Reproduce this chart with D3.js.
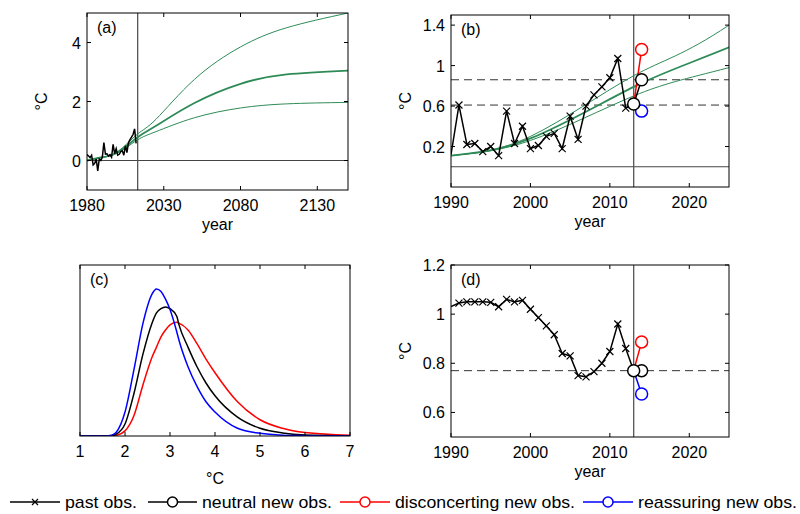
<!DOCTYPE html>
<html>
<head>
<meta charset="utf-8">
<script src="https://cdn.jsdelivr.net/npm/d3@7"></script>
<style>
  body { margin: 0; background: #fff; }
  text { font-family: "Liberation Sans", Arial, sans-serif; fill: #000; }
</style>
</head>
<body>
<svg id="chart" width="800" height="514"></svg>
<script>
// observed anomalies (panels a, b)
const pastYearsA = d3.range(1980, 2013)
const pastTempA = [0.2, 0.15, 0.1, 0.18, -0.15, -0.1, 0.05, -0.35, 0.05, 0.0,
  0.12, 0.61, 0.22, 0.23, 0.15, 0.2, 0.11, 0.55, 0.23, 0.4, 0.18, 0.21, 0.3,
  0.33, 0.18, 0.5, 0.27, 0.6, 0.71, 0.79, 0.88, 1.07, 0.58]
const pastYearsB = d3.range(1990, 2013)
const pastTempB = pastTempA.slice(10)

// projections (green)
const projYears = [1980, 1990, 2000, 2013, 2025, 2050, 2080, 2110, 2150]
const projHigh = [0.0, 0.11, 0.3, 0.9, 1.40, 2.75, 3.85, 4.5, 5.0]
const projMid = [0.0, 0.11, 0.28, 0.79, 1.18, 1.95, 2.6, 2.92, 3.05]
const projLow = [0.0, 0.11, 0.26, 0.70, 0.98, 1.45, 1.78, 1.92, 1.97]

// new observations (panel b)
const newYear = 2014
const lastObsB = 0.62
const newObsB = { neutral: 0.86, disconcerting: 1.16, reassuring: 0.55 }
const dashedB = [0.61, 0.86]

// panel d series
const pastYearsD = d3.range(1990, 2013)
const pastValD = [1.031, 1.045, 1.05, 1.05, 1.05, 1.048, 1.03, 1.06, 1.05, 1.056,
  1.02, 0.986, 0.952, 0.916, 0.84, 0.83, 0.75, 0.745, 0.766, 0.8, 0.848, 0.96, 0.86]
const lastObsD = 0.77
const newObsD = { neutral: 0.77, disconcerting: 0.887, reassuring: 0.675 }
const dashedD = [0.77]

// panel c densities
const sensX = [1, 1.5, 1.7, 1.8, 2, 2.2, 2.4, 2.6, 2.7, 2.8, 2.9, 3, 3.15, 3.2, 3.4, 3.6, 3.8, 4, 4.5, 5, 5.5, 6, 7]
const densBlue = [0, 0, .005, .02, .14, .39, .66, .83, .86, .845, .80, .74, .61, .56, .405, .29, .2, .14, .045, .016, .005, .002, 0]
const densBlack = [0, 0, .002, .01, .07, .25, .48, .66, .72, .745, .755, .745, .70, .65, .52, .405, .31, .235, .11, .045, .018, .006, 0]
const densRed = [0, 0, 0, .003, .03, .12, .30, .46, .52, .58, .62, .65, .665, .66, .62, .54, .45, .37, .2, .095, .045, .02, .004]

const cutYear = 2013
const green = "#2e8b57"
const obsColor = { neutral: "#000", disconcerting: "#ff0000", reassuring: "#0000ff" }
const fs = 16

const svg = d3.select("#chart")

function panel(box, xd, yd, xticks, yticks, label, xlabel, ylabel) {
  const x = d3.scaleLinear().domain(xd).range([box.l, box.r])
  const y = d3.scaleLinear().domain(yd).range([box.b, box.t])
  const g = svg.append("g")
  const clip = "clip" + label
  g.append("clipPath").attr("id", clip).append("rect")
    .attr("x", box.l).attr("y", box.t).attr("width", box.r - box.l).attr("height", box.b - box.t)
  const plot = g.append("g").attr("clip-path", `url(#${clip})`)

  const tl = 4
  xticks.forEach(v => {
    g.append("line").attr("x1", x(v)).attr("x2", x(v)).attr("y1", box.b).attr("y2", box.b - tl).attr("stroke", "#000")
    g.append("line").attr("x1", x(v)).attr("x2", x(v)).attr("y1", box.t).attr("y2", box.t + tl).attr("stroke", "#000")
    g.append("text").attr("x", x(v)).attr("y", box.b + 21).attr("text-anchor", "middle")
      .attr("font-size", fs).text(v)
  })
  yticks.forEach(v => {
    g.append("line").attr("y1", y(v)).attr("y2", y(v)).attr("x1", box.l).attr("x2", box.l + tl).attr("stroke", "#000")
    g.append("line").attr("y1", y(v)).attr("y2", y(v)).attr("x1", box.r).attr("x2", box.r - tl).attr("stroke", "#000")
    g.append("text").attr("x", box.l - 6).attr("y", y(v) + 6).attr("text-anchor", "end")
      .attr("font-size", fs).text(v)
  })
  g.append("text").attr("x", box.l + 10).attr("y", box.t + 20).attr("font-size", fs).text(`(${label})`)
  if (xlabel) g.append("text").attr("x", (box.l + box.r) / 2).attr("y", box.b + 40)
    .attr("text-anchor", "middle").attr("font-size", fs).text(xlabel)
  if (ylabel) g.append("text")
    .attr("transform", `translate(${box.l - 40},${(box.t + box.b) / 2}) rotate(-90)`)
    .attr("text-anchor", "middle").attr("font-size", fs).text(ylabel)
  const frame = () => g.append("rect").attr("x", box.l).attr("y", box.t)
    .attr("width", box.r - box.l).attr("height", box.b - box.t)
    .attr("fill", "none").attr("stroke", "#000")
  return { x, y, g, plot, frame }
}

function curve(p, xs, ys, color, width, c) {
  p.plot.append("path").datum(xs.map((v, i) => [v, ys[i]]))
    .attr("fill", "none").attr("stroke", color).attr("stroke-width", width)
    .attr("d", d3.line().x(d => p.x(d[0])).y(d => p.y(d[1])).curve(c || d3.curveLinear))
}

function crosses(p, xs, ys) {
  xs.forEach((v, i) => {
    const cx = p.x(v), cy = p.y(ys[i]), s = 3.5
    p.plot.append("path").attr("d", `M${cx - s},${cy - s}L${cx + s},${cy + s}M${cx - s},${cy + s}L${cx + s},${cy - s}`)
      .attr("stroke", "#000").attr("stroke-width", 1.2)
  })
}

function hline(p, v, dash, color) {
  const [a, b] = p.x.domain()
  p.plot.append("line").attr("x1", p.x(a)).attr("x2", p.x(b)).attr("y1", p.y(v)).attr("y2", p.y(v))
    .attr("stroke", color || "#000").attr("stroke-width", 1).attr("stroke-dasharray", dash || null)
}
function vline(p, v) {
  const [a, b] = p.y.domain()
  p.plot.append("line").attr("x1", p.x(v)).attr("x2", p.x(v)).attr("y1", p.y(a)).attr("y2", p.y(b))
    .attr("stroke", "#555").attr("stroke-width", 1.3)
}

function newObs(p, last, obs, lines) {
  lines.forEach(k => curve(p, [cutYear, newYear], [last, obs[k]], obsColor[k], 1.5))
  ;["reassuring", "disconcerting", "neutral"].forEach(k => {
    p.plot.append("circle").attr("cx", p.x(newYear)).attr("cy", p.y(obs[k])).attr("r", 6)
      .attr("fill", "#fff").attr("stroke", obsColor[k]).attr("stroke-width", 1.5)
  })
  p.plot.append("circle").attr("cx", p.x(cutYear)).attr("cy", p.y(last)).attr("r", 6)
    .attr("fill", "#fff").attr("stroke", "#000").attr("stroke-width", 1.5)
}

// (a)
const pa = panel({ l: 87, r: 348, t: 13, b: 190 }, [1980, 2150], [-1, 5],
  [1980, 2030, 2080, 2130], [0, 2, 4], "a", "year", "°C")
hline(pa, 0, null, "#444")
vline(pa, cutYear)
;[projHigh, projLow].forEach(s => curve(pa, projYears, s, green, 1, d3.curveNatural))
curve(pa, projYears, projMid, green, 1.8, d3.curveNatural)
curve(pa, pastYearsA, pastTempA, "#000", 1.5)
pa.frame()

// (b)
const pb = panel({ l: 451, r: 729, t: 15, b: 187 }, [1990, 2025], [-0.2, 1.5],
  [1990, 2000, 2010, 2020], [0.2, 0.6, 1, 1.4], "b", "year", "°C")
hline(pb, 0, null, "#444")
dashedB.forEach(v => hline(pb, v, "8,5", "#333"))
vline(pb, cutYear)
;[projHigh, projLow].forEach(s => curve(pb, projYears, s, green, 1, d3.curveNatural))
curve(pb, projYears, projMid, green, 1.8, d3.curveNatural)
curve(pb, pastYearsB.concat([cutYear]), pastTempB.concat([lastObsB]), "#000", 1.5)
crosses(pb, pastYearsB.slice(1), pastTempB.slice(1))
newObs(pb, lastObsB, newObsB, ["disconcerting", "neutral"])
pb.frame()

// (c)
const pc = panel({ l: 80, r: 350, t: 265, b: 436 }, [1, 7], [0, 1],
  [1, 2, 3, 4, 5, 6, 7], [], "c", null, null)
pc.g.append("text").attr("x", 215).attr("y", 484).attr("text-anchor", "middle").attr("font-size", fs).text("°C")
curve(pc, sensX, densRed, "#ff0000", 1.5, d3.curveMonotoneX)
curve(pc, sensX, densBlack, "#000", 1.5, d3.curveMonotoneX)
curve(pc, sensX, densBlue, "#0000ff", 1.5, d3.curveMonotoneX)
pc.frame()

// (d)
const pd = panel({ l: 451, r: 729, t: 265, b: 437 }, [1990, 2025], [0.5, 1.2],
  [1990, 2000, 2010, 2020], [0.6, 0.8, 1, 1.2], "d", "year", "°C")
dashedD.forEach(v => hline(pd, v, "8,5", "#333"))
vline(pd, cutYear)
curve(pd, pastYearsD.concat([cutYear]), pastValD.concat([lastObsD]), "#000", 1.5)
crosses(pd, pastYearsD.slice(1), pastValD.slice(1))
newObs(pd, lastObsD, newObsD, ["disconcerting", "reassuring", "neutral"])
pd.frame()

// legend
const legendItems = [
  { text: "past obs.", color: "#000", mark: "x", x0: 10, x1: 60, w: 72 },
  { text: "neutral new obs.", color: "#000", mark: "o", x0: 148, x1: 197, w: 130 },
  { text: "disconcerting new obs.", color: "#ff0000", mark: "o", x0: 340, x1: 390, w: 180 },
  { text: "reassuring new obs.", color: "#0000ff", mark: "o", x0: 583, x1: 633, w: 159 }
]
const ly = 502
legendItems.forEach(it => {
  const lg = svg.append("g")
  const cx = (it.x0 + it.x1) / 2
  lg.append("line").attr("x1", it.x0).attr("x2", it.x1).attr("y1", ly).attr("y2", ly)
    .attr("stroke", it.color).attr("stroke-width", 1.5)
  if (it.mark === "x") {
    lg.append("path").attr("d", `M${cx - 3},${ly - 3}L${cx + 3},${ly + 3}M${cx - 3},${ly + 3}L${cx + 3},${ly - 3}`)
      .attr("stroke", "#000").attr("stroke-width", 1.2)
  } else {
    lg.append("circle").attr("cx", cx).attr("cy", ly).attr("r", 5)
      .attr("fill", "#fff").attr("stroke", it.color).attr("stroke-width", 1.5)
  }
  lg.append("text").attr("x", it.x1 + 5).attr("y", ly + 6).attr("font-size", 17)
    .attr("textLength", it.w).attr("lengthAdjust", "spacingAndGlyphs").text(it.text)
})
</script>
</body>
</html>
